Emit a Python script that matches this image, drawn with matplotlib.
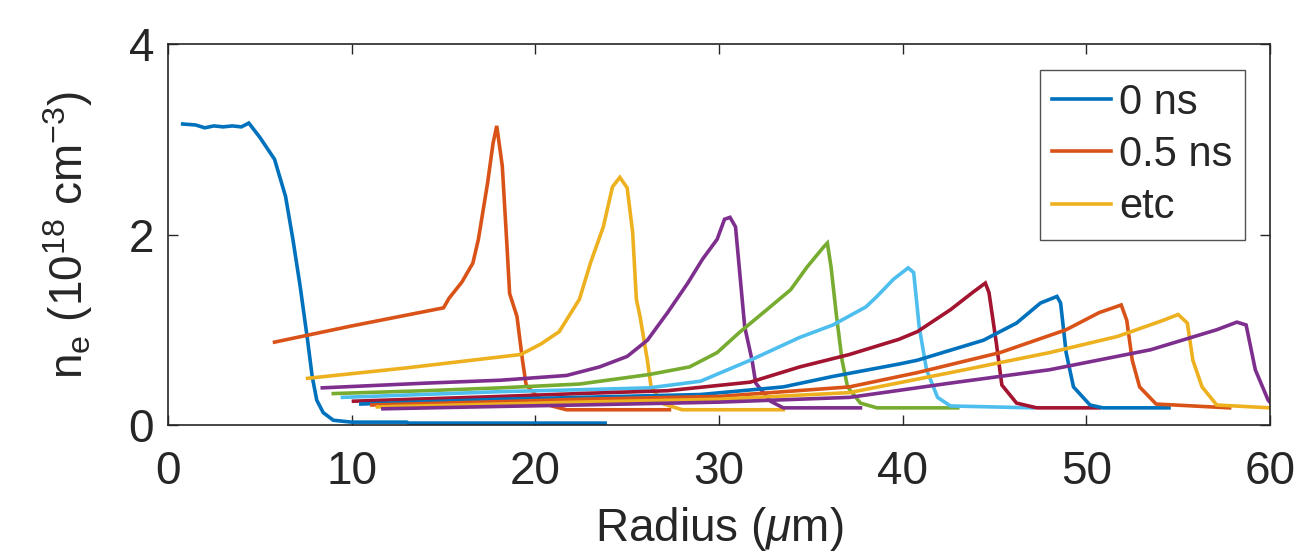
import matplotlib
matplotlib.use("Agg")
import matplotlib.pyplot as plt

plt.rcParams['font.family'] = ['Liberation Sans', 'DejaVu Sans']
plt.rcParams['mathtext.fontset'] = 'custom'
plt.rcParams['mathtext.rm'] = 'Liberation Sans'
plt.rcParams['mathtext.it'] = 'Liberation Sans:italic'

# ---- data ----
r0 = [0.8, 1.5, 2.0, 2.5, 3.0, 3.5, 4.0, 4.4, 5.0, 5.8, 6.4, 6.8, 7.2, 7.6, 7.85, 8.1, 8.45, 9.0, 10.0, 13.0, 13.1, 23.8]
n0 = [3.16, 3.15, 3.12, 3.14, 3.13, 3.14, 3.13, 3.17, 3.02, 2.79, 2.40, 1.95, 1.45, 0.89, 0.51, 0.26, 0.13, 0.05, 0.03, 0.03, 0.02, 0.02]

r1 = [5.8, 10.0, 15.0, 15.3, 16.0, 16.6, 16.9, 17.4, 17.7, 17.9, 18.2, 18.45, 18.6, 19.0, 19.3, 19.5, 20.5, 21.7, 27.3]
n1 = [0.87, 1.04, 1.23, 1.33, 1.50, 1.70, 1.95, 2.54, 2.96, 3.14, 2.72, 1.90, 1.38, 1.14, 0.68, 0.42, 0.22, 0.16, 0.16]

r2 = [7.6, 13.0, 19.2, 20.3, 21.3, 22.4, 23.0, 23.7, 24.2, 24.6, 25.0, 25.3, 25.5, 25.7, 26.1, 26.3, 27.0, 28.0, 33.5]
n2 = [0.49, 0.60, 0.74, 0.85, 0.98, 1.32, 1.70, 2.08, 2.50, 2.60, 2.49, 2.02, 1.32, 1.14, 0.68, 0.40, 0.22, 0.16, 0.16]

r3 = [8.4, 14.1, 18.1, 21.7, 23.5, 25.0, 26.1, 27.2, 28.3, 29.1, 29.9, 30.3, 30.6, 30.9, 31.1, 31.4, 31.8, 32.0, 32.8, 33.5, 37.7]
n3 = [0.39, 0.44, 0.47, 0.52, 0.61, 0.72, 0.89, 1.18, 1.49, 1.74, 1.95, 2.16, 2.18, 2.08, 1.66, 1.03, 0.68, 0.44, 0.25, 0.18, 0.18]

r4 = [9.0, 14.0, 18.1, 22.4, 26.2, 28.4, 29.9, 31.1, 32.6, 33.9, 34.8, 35.7, 35.9, 36.1, 36.4, 36.7, 37.0, 37.7, 38.6, 43.0]
n4 = [0.33, 0.36, 0.39, 0.43, 0.53, 0.61, 0.76, 0.97, 1.21, 1.42, 1.66, 1.87, 1.91, 1.66, 1.14, 0.68, 0.40, 0.23, 0.18, 0.18]

r5 = [9.5, 18.1, 22.4, 26.2, 29.0, 31.7, 34.4, 36.2, 38.0, 38.6, 39.5, 40.3, 40.6, 40.9, 41.3, 41.9, 42.6, 47.1]
n5 = [0.29, 0.35, 0.37, 0.39, 0.46, 0.68, 0.92, 1.05, 1.24, 1.35, 1.53, 1.65, 1.60, 1.03, 0.58, 0.29, 0.20, 0.18]

r6 = [10.1, 18.1, 22.4, 27.2, 31.7, 34.4, 37.1, 39.8, 40.8, 42.6, 43.8, 44.5, 44.7, 45.1, 45.4, 46.2, 47.3, 50.7]
n6 = [0.25, 0.30, 0.33, 0.36, 0.45, 0.61, 0.74, 0.90, 0.98, 1.21, 1.39, 1.49, 1.39, 0.86, 0.42, 0.23, 0.18, 0.18]

r7 = [10.5, 18.1, 22.4, 29.0, 33.5, 36.2, 39.8, 40.8, 44.4, 46.2, 47.5, 48.4, 48.6, 48.9, 49.3, 50.2, 50.9, 54.5]
n7 = [0.22, 0.27, 0.29, 0.32, 0.40, 0.51, 0.64, 0.68, 0.89, 1.07, 1.28, 1.35, 1.28, 0.76, 0.40, 0.21, 0.18, 0.18]

r8 = [11.1, 18.1, 22.4, 30.0, 37.1, 40.8, 45.3, 48.9, 50.7, 51.9, 52.2, 52.5, 52.9, 53.8, 57.8]
n8 = [0.21, 0.245, 0.27, 0.30, 0.40, 0.55, 0.76, 1.00, 1.18, 1.26, 1.10, 0.68, 0.40, 0.22, 0.18]

r9 = [11.4, 18.1, 22.4, 30.0, 37.1, 42.6, 48.0, 51.7, 54.2, 55.0, 55.5, 55.8, 56.3, 57.1, 60.0]
n9 = [0.19, 0.22, 0.24, 0.27, 0.34, 0.55, 0.76, 0.93, 1.10, 1.16, 1.07, 0.68, 0.40, 0.21, 0.18]

r10 = [11.7, 18.1, 22.4, 30.0, 37.1, 42.6, 48.0, 53.5, 57.1, 58.2, 58.7, 59.2, 59.9, 60.0]
n10 = [0.17, 0.195, 0.21, 0.24, 0.29, 0.44, 0.58, 0.79, 1.00, 1.08, 1.05, 0.58, 0.26, 0.24]

radii = [r0, r1, r2, r3, r4, r5, r6, r7, r8, r9, r10]
densities = [n0, n1, n2, n3, n4, n5, n6, n7, n8, n9, n10]
labels = ['0 ns', '0.5 ns', 'etc']

colors = ['#0072BD', '#D95319', '#EDB120', '#7E2F8E', '#77AC30', '#4DBEEE', '#A2142F']

xticks = [0, 10, 20, 30, 40, 50, 60]
yticks = [0, 2, 4]

# ---- plot ----
fig = plt.figure(figsize=(13.01, 5.51), dpi=100)
ax = fig.add_axes([168/1301, 1 - 425/551, (1270-168)/1301, (425-44)/551])

for i, (r, n) in enumerate(zip(radii, densities)):
    lab = labels[i] if i < len(labels) else None
    ax.plot(r, n, color=colors[i % len(colors)], lw=2.6, label=lab,
            solid_joinstyle='miter')

ax.set_xlim(0, 60)
ax.set_ylim(0, 4)
ax.set_xticks(xticks)
ax.set_yticks(yticks)

axcol = '#262626'
for s in ax.spines.values():
    s.set_color(axcol)
    s.set_linewidth(1.2)
ax.tick_params(direction='in', length=7, width=1.0, colors=axcol,
               labelsize=33, top=True, right=True)
ax.tick_params(axis='x', pad=18)
ax.tick_params(axis='y', pad=10)
for t in ax.get_xticklabels() + ax.get_yticklabels():
    t.set_color(axcol)

ax.set_xlabel(r'Radius ($\mu$m)', fontsize=33, color=axcol, labelpad=8)
ax.set_ylabel(r'n$_\mathregular{e}$ (10$^{18}$ cm$^{-3}$)', fontsize=33,
              color=axcol, labelpad=24)

leg = ax.legend(loc='upper right', bbox_to_anchor=(1245/1301, 1 - 70/551),
                bbox_transform=fig.transFigure, fontsize=30,
                frameon=True, fancybox=False, edgecolor='#262626',
                handlelength=1.4, handletextpad=0.2, labelspacing=0.3,
                borderpad=0.3, borderaxespad=0)
leg.get_frame().set_linewidth(1.0)
for t in leg.get_texts():
    t.set_color(axcol)

fig.savefig('out.png', dpi=100)
